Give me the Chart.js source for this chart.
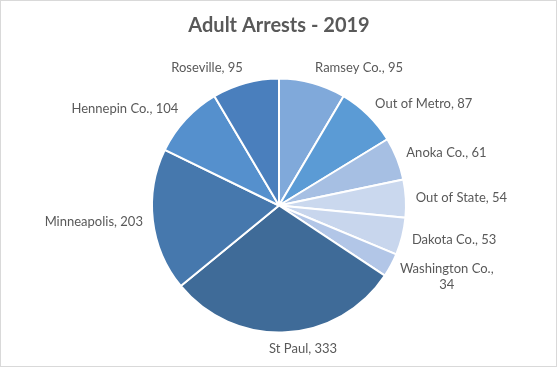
<!DOCTYPE html>
<html>
<head>
<meta charset="utf-8">
<script src="https://cdn.jsdelivr.net/npm/chart.js@4.4.1/dist/chart.umd.min.js"></script>
<style>
    html, body { margin: 0; padding: 0; background: #ffffff; }
    #box { position: relative; width: 560px; height: 370px; }
    #cornice { position: absolute; left: 0; top: 0; width: 555px; height: 365px; border: 1px solid #d9d9d9; }
    canvas { position: absolute; left: 0; top: 0; }
</style>
</head>
<body>
<div id="box">
    <div id="cornice"></div>
    <canvas id="grafico-arresti" width="560" height="370"></canvas>
</div>
<script>
// dati
var categorie = ['Ramsey Co.', 'Out of Metro', 'Anoka Co.', 'Out of State', 'Dakota Co.', 'Washington Co.', 'St Paul', 'Minneapolis', 'Hennepin Co.', 'Roseville'];
var arresti = [95, 87, 61, 54, 53, 34, 333, 203, 104, 95];
var colori = ['#80a9da', '#5b9bd5', '#a6bfe3', '#cad8ee', '#c8d6ed', '#b2c6e7', '#3f6b98', '#4678ad', '#5590cd', '#4a7fbd'];

var testo = '#595959';
var fontEtichette = '13px Lato';
var larghezzaMax = 110;

// etichette esterne "categoria, valore" come in Excel
var etichettePlugin = {
    id: 'etichette',
    afterDatasetsDraw: function (chart) {
        var ctx = chart.ctx;
        var meta = chart.getDatasetMeta(0);
        ctx.save();
        ctx.font = fontEtichette;
        ctx.fillStyle = testo;
        ctx.textAlign = 'center';
        ctx.textBaseline = 'middle';
        meta.data.forEach(function (arc, i) {
            var p = arc.getProps(['x', 'y', 'startAngle', 'endAngle', 'outerRadius'], true);
            var mid = (p.startAngle + p.endAngle) / 2;
            var full = categorie[i] + ', ' + arresti[i];
            var righe = [full];
            if (ctx.measureText(full).width > larghezzaMax) {
                righe = [categorie[i] + ',', String(arresti[i])];
            }
            var w = Math.max.apply(null, righe.map(function (r) { return ctx.measureText(r).width; }));
            var lh = 16;
            var h = righe.length * lh - 4;
            var px = p.x + (p.outerRadius + 10) * Math.cos(mid);
            var py = p.y + (p.outerRadius + 10) * Math.sin(mid);
            var kx = Math.max(-1, Math.min(1, 10 * Math.cos(mid)));
            var cx = px + w / 2 * kx;
            var cy = py + h / 2 * Math.sin(mid);
            righe.forEach(function (r, j) {
                ctx.fillText(r, cx, cy - (righe.length - 1) * lh / 2 + j * lh);
            });
        });
        ctx.restore();
    }
};

var ctx = document.getElementById('grafico-arresti');
var chart = new Chart(ctx, {
    type: 'pie',
    data: {
        labels: categorie,
        datasets: [{
            data: arresti,
            backgroundColor: colori,
            borderColor: '#ffffff',
            borderWidth: 2,
            radius: 127
        }]
    },
    options: {
        responsive: false,
        animation: false,
        layout: { padding: { left: 0, right: 2, top: 0, bottom: 0 } },
        plugins: {
            legend: { display: false },
            tooltip: { enabled: false },
            title: {
                display: true,
                text: 'Adult Arrests - 2019',
                color: testo,
                font: { family: 'Lato', size: 20, weight: 'bold' },
                padding: { top: 14, bottom: 3 }
            }
        }
    },
    plugins: [etichettePlugin]
});
</script>
</body>
</html>
